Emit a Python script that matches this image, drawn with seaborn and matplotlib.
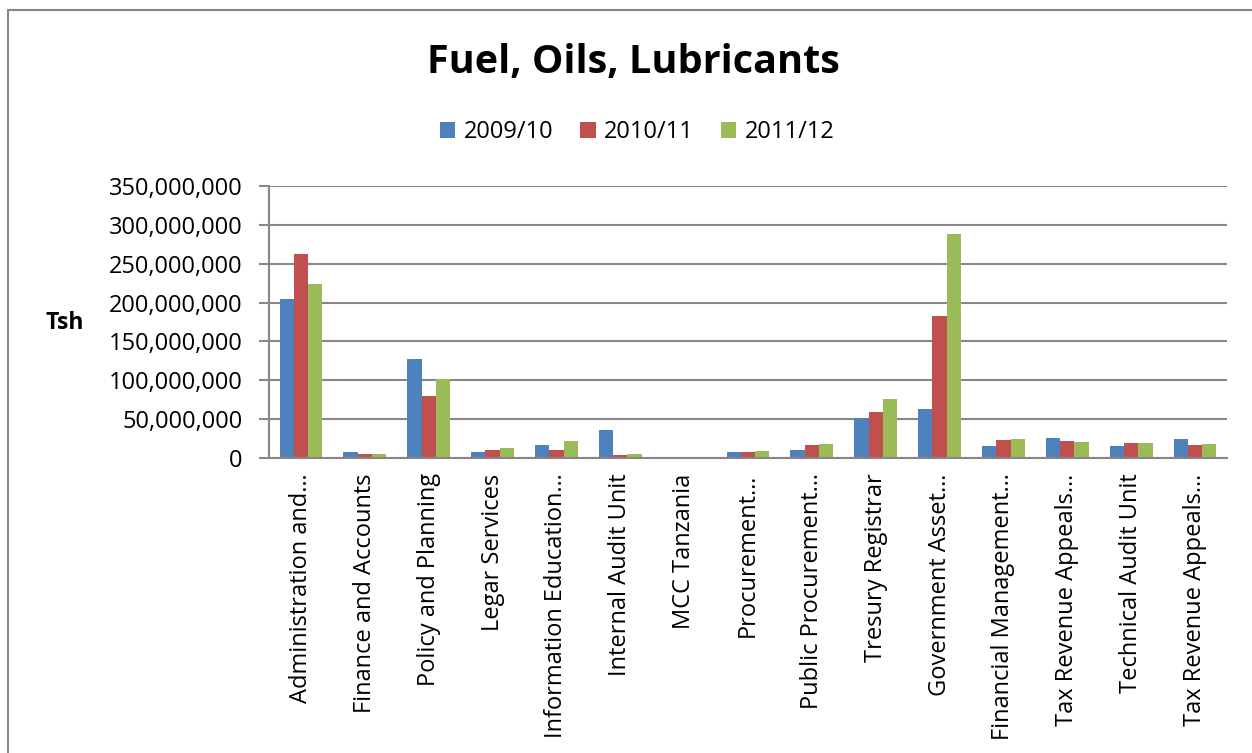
import matplotlib
matplotlib.use("Agg")
import matplotlib.pyplot as plt
from matplotlib.patches import Patch, Rectangle
from matplotlib.ticker import FuncFormatter, FixedLocator
import numpy as np
import pandas as pd
import seaborn as sns

# chart data (Tsh)
units = ["Administration and\u2026", "Finance and Accounts", "Policy and Planning",
         "Legar Services", "Information Education\u2026", "Internal Audit Unit",
         "MCC Tanzania", "Procurement\u2026", "Public Procurement\u2026",
         "Tresury Registrar", "Government Asset\u2026", "Financial Management\u2026",
         "Tax Revenue Appeals\u2026", "Technical Audit Unit", "Tax Revenue Appeals\u2026"]
years = ["2009/10", "2010/11", "2011/12"]
fy2009 = [205e6, 7.7e6, 127e6, 7.7e6, 16.3e6, 36.5e6, 0, 8.2e6, 10.3e6,
          51.6e6, 63.6e6, 15.9e6, 26.2e6, 15.0e6, 24.5e6]
fy2010 = [263e6, 5.2e6, 79.5e6, 10.7e6, 10.7e6, 3.4e6, 0, 8.2e6, 16.3e6,
          59.8e6, 182.8e6, 23.7e6, 21.9e6, 18.9e6, 17.2e6]
fy2011 = [224e6, 5.0e6, 102e6, 13.3e6, 22.3e6, 5.5e6, 0, 9.5e6, 18.0e6,
          76.5e6, 288e6, 25.0e6, 20.6e6, 19.8e6, 18.5e6]
colors = ["#4F81BD", "#C0504D", "#9BBB59"]

sns.set_style("white")
plt.rcParams["font.family"] = ["Open Sans", "DejaVu Sans"]
plt.rcParams["text.color"] = "black"

# long form table, position used as key because two labels repeat
rows = []
for yr, vals in zip(years, [fy2009, fy2010, fy2011]):
    for i, v in enumerate(vals):
        rows.append({"pos": i, "year": yr, "value": v})
df = pd.DataFrame(rows)

fig = plt.figure(figsize=(12.52, 7.53), dpi=100)
ax = fig.add_axes([269/1252, 1-458/753, (1227-269)/1252, (458-186)/753])

sns.barplot(data=df, x="pos", y="value", hue="year", hue_order=years,
            palette=colors, saturation=1, width=0.67, linewidth=0, ax=ax)

grey = "#878787"
ax.set_ylim(0, 350e6)
ax.set_yticks(np.arange(0, 350e6 + 1, 50e6))
ax.yaxis.set_major_formatter(FuncFormatter(lambda v, p: "{:,.0f}".format(v)))
ax.grid(axis="y", color=grey, linewidth=1.5)
ax.set_axisbelow(True)
ax.set_xlim(-0.5, len(units) - 0.5)
ax.set_xticks(range(len(units)))
ax.set_xticklabels(units, rotation=90, ha="center", va="top")
ax.xaxis.set_minor_locator(FixedLocator(np.arange(-0.5, len(units), 1)))
ax.tick_params(axis="x", which="major", length=0, pad=11, labelsize=17, labelcolor="black")
ax.tick_params(axis="x", which="minor", length=6, width=1.5, color=grey, direction="out")
ax.tick_params(axis="y", length=7, width=1.5, color=grey, direction="out", pad=12,
               labelsize=17, left=True, labelcolor="black")
for s in ["top", "right"]:
    ax.spines[s].set_visible(False)
for s in ["left", "bottom"]:
    ax.spines[s].set_color(grey)
    ax.spines[s].set_linewidth(1.5)
ax.set_xlabel("")
ax.set_ylabel("")

ax.legend_.remove()
handles = [Patch(facecolor=c, edgecolor="none") for c in colors]
fig.legend(handles, years, loc="center", bbox_to_anchor=(637/1252, 1-132/753),
           ncol=3, frameon=False, fontsize=17, handlelength=0.65, handleheight=0.65,
           handletextpad=0.35, columnspacing=1.15)

fig.text(633/1252, 1-62/753, "Fuel, Oils, Lubricants", ha="center", va="center",
         fontsize=28.5, fontweight="bold")
fig.text(65/1252, 1-323/753, "Tsh", ha="center", va="center", fontsize=16.5,
         fontweight="bold")

# outer chart frame (only top and left visible in the picture)
fig.patches.append(Rectangle((8/1252, -0.5), 2, 0.5 + 1 - 10/753, fill=False,
                             edgecolor=grey, linewidth=1.5, transform=fig.transFigure))

fig.savefig("out.png", dpi=100)
